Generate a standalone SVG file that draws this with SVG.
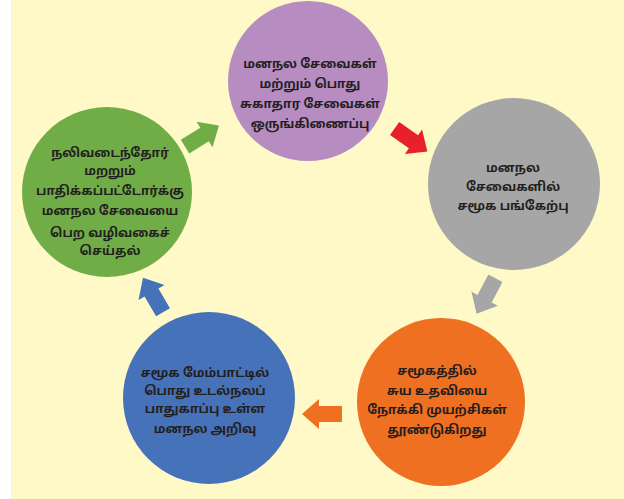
<svg xmlns="http://www.w3.org/2000/svg" width="624" height="499" viewBox="0 0 624 499">
<style>
.t{font-family:"Noto Sans Tamil","Lohit Tamil","Latha","Noto Sans","DejaVu Sans",sans-serif;font-size:12.5px;font-weight:bold;fill:#231F20;text-anchor:middle}
</style>
<defs>
<polygon id="arr" points="-20,-8 3,-8 3,-15 20,0 3,15 3,8 -20,8"/>
</defs>
<rect x="0" y="0" width="624" height="499" fill="#FFFFFF"/>
<rect x="11" y="0" width="613" height="499" fill="#FEF9C6"/>
<g id="connectors">
<use href="#arr" fill="#70AD47" transform="translate(202,136) rotate(-32)"/>
<use href="#arr" fill="#E8202A" transform="translate(411,140) rotate(35)"/>
<use href="#arr" fill="#A6A6A6" transform="translate(486,296) rotate(118)"/>
<use href="#arr" fill="#F07022" transform="translate(322,414) rotate(180)"/>
<use href="#arr" fill="#4672B9" transform="translate(153,295) rotate(-120)"/>
</g>
<g id="node1">
<circle cx="308" cy="81" r="80" fill="#B78CC1"/>
<text class="t" x="310" y="68">மனநல சேவைகள்</text>
<text class="t" x="310" y="88">மற்றும் பொது</text>
<text class="t" x="310" y="108">சுகாதார சேவைகள்</text>
<text class="t" x="310" y="128">ஒருங்கிணைப்பு</text>
</g>
<g id="node2">
<circle cx="514" cy="184" r="86" fill="#A6A6A6"/>
<text class="t" x="513" y="172">மனநல</text>
<text class="t" x="513" y="191">சேவைகளில்</text>
<text class="t" x="513" y="210">சமூக பங்கேற்பு</text>
</g>
<g id="node3">
<circle cx="441" cy="402" r="84" fill="#F07022"/>
<text class="t" x="437" y="375">சமூகத்தில்</text>
<text class="t" x="437" y="395">சுய உதவியை</text>
<text class="t" x="437" y="414">நோக்கி முயற்சிகள்</text>
<text class="t" x="437" y="434">தூண்டுகிறது</text>
</g>
<g id="node4">
<circle cx="209" cy="398" r="86" fill="#4672B9"/>
<text class="t" x="205" y="377">சமூக மேம்பாட்டில்</text>
<text class="t" x="205" y="395">பொது உடல்நலப்</text>
<text class="t" x="205" y="413">பாதுகாப்பு உள்ள</text>
<text class="t" x="205" y="433">மனநல அறிவு</text>
</g>
<g id="node5">
<circle cx="107" cy="192" r="85" fill="#70AD47"/>
<text class="t" x="110" y="157">நலிவடைந்தோர்</text>
<text class="t" x="110" y="175">மறறும்</text>
<text class="t" x="110" y="195">பாதிக்கப்பட்டோர்க்கு</text>
<text class="t" x="110" y="215">மனநல சேவையை</text>
<text class="t" x="110" y="237">பெற வழிவகைச்</text>
<text class="t" x="110" y="255">செய்தல்</text>
</g>
</svg>
